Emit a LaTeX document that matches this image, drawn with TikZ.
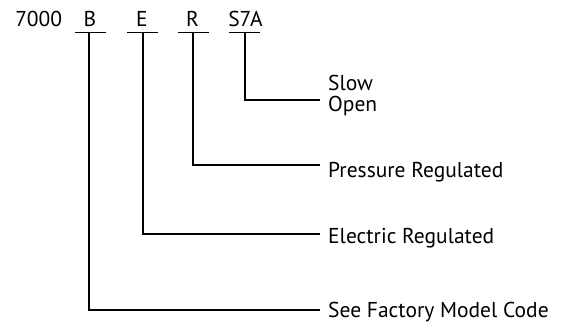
\documentclass[tikz,border=0pt]{standalone}
\usepackage{fontspec}
\setmainfont{PT Sans}
\begin{document}
\begin{tikzpicture}[x=1pt,y=-1pt,
  lbl/.style={font=\fontsize{21.5}{25}\selectfont, inner sep=0pt},
  ln/.style={line width=1.8pt}]
\useasboundingbox (0,0) rectangle (567,322);
% top code
\node[lbl, anchor=base] (n7000) at (38.7,26) {7000};
\node[lbl, anchor=base] (cB) at (90,26) {B};
\node[lbl, anchor=base] (cE) at (142,26) {E};
\node[lbl, anchor=base] (cR) at (192.5,26) {R};
\node[lbl, anchor=base] (cS) at (245.5,26) {S7A};
% underlines
\draw[ln] (75,32.5) -- (106,32.5);
\draw[ln] (127,32.5) -- (158,32.5);
\draw[ln] (178,32.5) -- (209,32.5);
\draw[ln] (229,32.5) -- (260,32.5);
% labels
\node[lbl, anchor=base west] (slow) at (328,90) {Slow};
\node[lbl, anchor=base west] (open) at (328,111) {Open};
\node[lbl, anchor=base west] (press) at (328,177) {Pressure Regulated};
\node[lbl, anchor=base west] (elec) at (328,243) {Electric Regulated};
\node[lbl, anchor=base west] (fact) at (328,317) {See Factory Model Code};
% connectors
\coordinate (eS) at (320,100);
\coordinate (eR) at (320,165);
\coordinate (eE) at (320,234);
\coordinate (eB) at (320,310);
\draw[ln] (245,32.5) |- (eS);
\draw[ln] (193,32.5) |- (eR);
\draw[ln] (143,32.5) |- (eE);
\draw[ln] (89,32.5) |- (eB);
\end{tikzpicture}
\end{document}
